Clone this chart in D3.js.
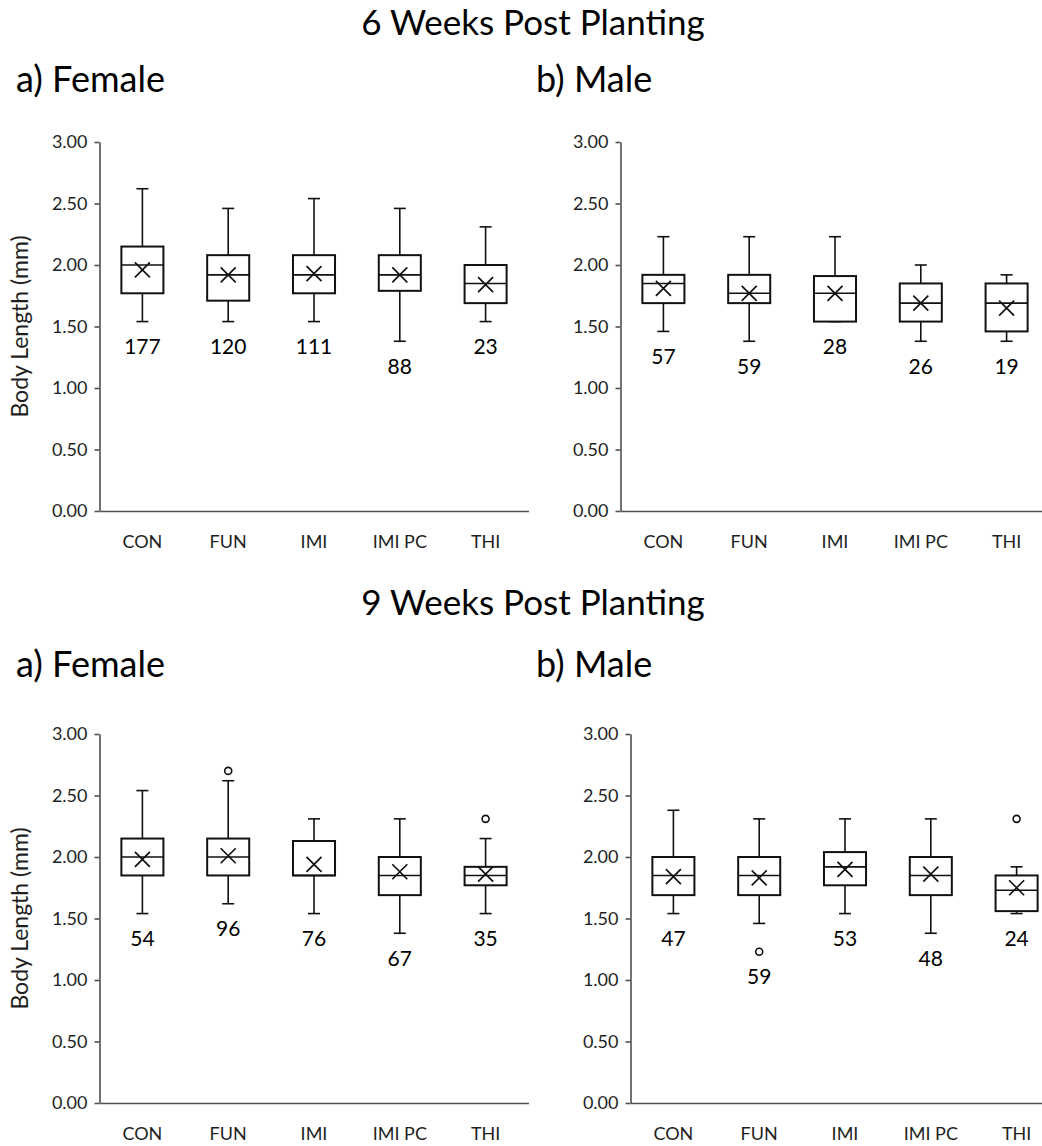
<!DOCTYPE html>
<html>
<head>
<meta charset="utf-8">
<style>
    body {
        margin: 0;
        background: white;
    }

    svg {
        display: block;
        font-family: Lato, 'Open Sans', sans-serif;
    }
</style>
</head>
<body>
<svg width="1042" height="1146"></svg>

<script src="https://d3js.org/d3.v7.min.js"></script>
<script>
    const categories = ["CON", "FUN", "IMI", "IMI PC", "THI"];
    const yTicks = [0, 0.5, 1, 1.5, 2, 2.5, 3];

    // each row: [min, q1, median, q3, max, mean, n]
    const week6Female = [
        [1.54, 1.77, 2.00, 2.15, 2.62, 1.96, 177],
        [1.54, 1.71, 1.92, 2.08, 2.46, 1.92, 120],
        [1.54, 1.77, 1.92, 2.08, 2.54, 1.93, 111],
        [1.38, 1.79, 1.92, 2.08, 2.46, 1.92, 88],
        [1.54, 1.69, 1.85, 2.00, 2.31, 1.84, 23]
    ];
    const week6Male = [
        [1.46, 1.69, 1.85, 1.92, 2.23, 1.81, 57],
        [1.38, 1.69, 1.77, 1.92, 2.23, 1.77, 59],
        [1.54, 1.54, 1.77, 1.91, 2.23, 1.77, 28],
        [1.38, 1.54, 1.69, 1.85, 2.00, 1.69, 26],
        [1.38, 1.46, 1.69, 1.85, 1.92, 1.65, 19]
    ];
    const week9Female = [
        [1.54, 1.85, 2.00, 2.15, 2.54, 1.98, 54],
        [1.62, 1.85, 2.00, 2.15, 2.62, 2.01, 96],
        [1.54, 1.85, 1.85, 2.13, 2.31, 1.94, 76],
        [1.38, 1.69, 1.85, 2.00, 2.31, 1.88, 67],
        [1.54, 1.77, 1.85, 1.92, 2.15, 1.86, 35]
    ];
    const week9Male = [
        [1.54, 1.69, 1.85, 2.00, 2.38, 1.84, 47],
        [1.46, 1.69, 1.85, 2.00, 2.31, 1.83, 59],
        [1.54, 1.77, 1.92, 2.04, 2.31, 1.90, 53],
        [1.38, 1.69, 1.85, 2.00, 2.31, 1.86, 48],
        [1.54, 1.56, 1.73, 1.85, 1.92, 1.75, 24]
    ];

    const week6FemaleOutliers = [[], [], [], [], []];
    const week6MaleOutliers = [[], [], [], [], []];
    const week9FemaleOutliers = [[], [2.70], [], [], [2.31]];
    const week9MaleOutliers = [[], [1.23], [], [], [2.31]];

    let svg = d3.select("svg");

    let plotW = 429;
    let plotH = 369;

    // section headings
    svg.append("text")
        .attr("x", 533).attr("y", 35)
        .attr("text-anchor", "middle")
        .style("font-size", "35px")
        .text("6 Weeks Post Planting");
    svg.append("text")
        .attr("x", 533).attr("y", 615)
        .attr("text-anchor", "middle")
        .style("font-size", "35px")
        .text("9 Weeks Post Planting");

    let panels = [
        { rows: week6Female, outliers: week6FemaleOutliers, x: 99.5, y: 142, title: "a) Female", tx: 16, ty: 92, yTitle: true },
        { rows: week6Male, outliers: week6MaleOutliers, x: 620.5, y: 142, title: "b) Male", tx: 536, ty: 92, yTitle: false },
        { rows: week9Female, outliers: week9FemaleOutliers, x: 99.5, y: 734, title: "a) Female", tx: 16, ty: 677, yTitle: true },
        { rows: week9Male, outliers: week9MaleOutliers, x: 630.5, y: 734, title: "b) Male", tx: 536, ty: 677, yTitle: false }
    ];

    panels.forEach(p => {
        svg.append("text")
            .attr("x", p.tx).attr("y", p.ty)
            .style("font-size", "36px")
            .text(p.title);

        let g = svg.append("g").attr("transform", `translate(${p.x},${p.y})`);

        let x = d3.scaleBand().domain(categories).range([0, plotW]);
        let y = d3.scaleLinear().domain([0, 3]).range([plotH, 0]);
        let bw = x.bandwidth() * 0.49;

        // y axis
        g.append("g")
            .call(d3.axisLeft(y).tickValues(yTicks).tickFormat(d3.format(".2f"))
                .tickSize(5).tickSizeOuter(0).tickPadding(7))
            .call(a => a.select(".domain").attr("stroke", "#505050").attr("stroke-width", 1.6))
            .call(a => a.selectAll(".tick line").attr("stroke", "#505050").attr("stroke-width", 1.6))
            .call(a => a.selectAll(".tick text").attr("fill", "#1f1f1f")
                .style("font-size", "18px").style("font-family", "Lato"));

        // x axis
        g.append("g")
            .attr("transform", `translate(0,${plotH})`)
            .call(d3.axisBottom(x).tickSize(0).tickPadding(24))
            .call(a => a.select(".domain").attr("stroke", "#505050").attr("stroke-width", 1.6))
            .call(a => a.selectAll(".tick text").attr("fill", "#1f1f1f")
                .style("font-size", "18px").style("font-family", "Lato"));

        if (p.yTitle) {
            svg.append("text")
                .attr("transform", `translate(28,${p.y + plotH / 2}) rotate(-90)`)
                .attr("text-anchor", "middle")
                .style("font-size", "23px")
                .attr("fill", "#1f1f1f")
                .text("Body Length (mm)");
        }

        let boxes = g.selectAll(".box")
            .data(p.rows.map((r, i) => ({ cat: categories[i], r: r, out: p.outliers[i] })))
            .join("g")
            .attr("class", "box")
            .attr("transform", d => `translate(${x(d.cat) + x.bandwidth() / 2},0)`);

        let stroke = "#111";

        // whiskers
        boxes.append("line")
            .attr("y1", d => y(d.r[4])).attr("y2", d => y(d.r[3]))
            .attr("stroke", stroke).attr("stroke-width", 1.6);
        boxes.append("line")
            .attr("y1", d => y(d.r[1])).attr("y2", d => y(d.r[0]))
            .attr("stroke", stroke).attr("stroke-width", 1.6);
        boxes.append("line")
            .attr("x1", -6).attr("x2", 6)
            .attr("y1", d => y(d.r[4])).attr("y2", d => y(d.r[4]))
            .attr("stroke", stroke).attr("stroke-width", 1.6);
        boxes.append("line")
            .attr("x1", -6).attr("x2", 6)
            .attr("y1", d => y(d.r[0])).attr("y2", d => y(d.r[0]))
            .attr("stroke", stroke).attr("stroke-width", 1.6);

        // box
        boxes.append("rect")
            .attr("x", -bw / 2).attr("width", bw)
            .attr("y", d => y(d.r[3]))
            .attr("height", d => y(d.r[1]) - y(d.r[3]))
            .attr("fill", "white")
            .attr("stroke", stroke).attr("stroke-width", 2);

        // median
        boxes.append("line")
            .attr("x1", -bw / 2).attr("x2", bw / 2)
            .attr("y1", d => y(d.r[2])).attr("y2", d => y(d.r[2]))
            .attr("stroke", stroke).attr("stroke-width", 1.6);

        // mean marker (x)
        boxes.append("path")
            .attr("d", d => {
                let cy = y(d.r[5]);
                return `M-7.5,${cy - 7.5}L7.5,${cy + 7.5}M-7.5,${cy + 7.5}L7.5,${cy - 7.5}`;
            })
            .attr("stroke", stroke).attr("stroke-width", 1.7)
            .attr("fill", "none");

        // outliers
        boxes.selectAll("circle")
            .data(d => d.out)
            .join("circle")
            .attr("cy", v => y(v))
            .attr("r", 3.5)
            .attr("fill", "white")
            .attr("stroke", stroke).attr("stroke-width", 1.6);

        // sample sizes
        boxes.append("text")
            .attr("y", d => y(d3.min([d.r[0], ...d.out])) + 27)
            .attr("text-anchor", "middle")
            .attr("dominant-baseline", "middle")
            .style("font-size", "21px")
            .text(d => d.r[6]);
    });
</script>
</body>
</html>
